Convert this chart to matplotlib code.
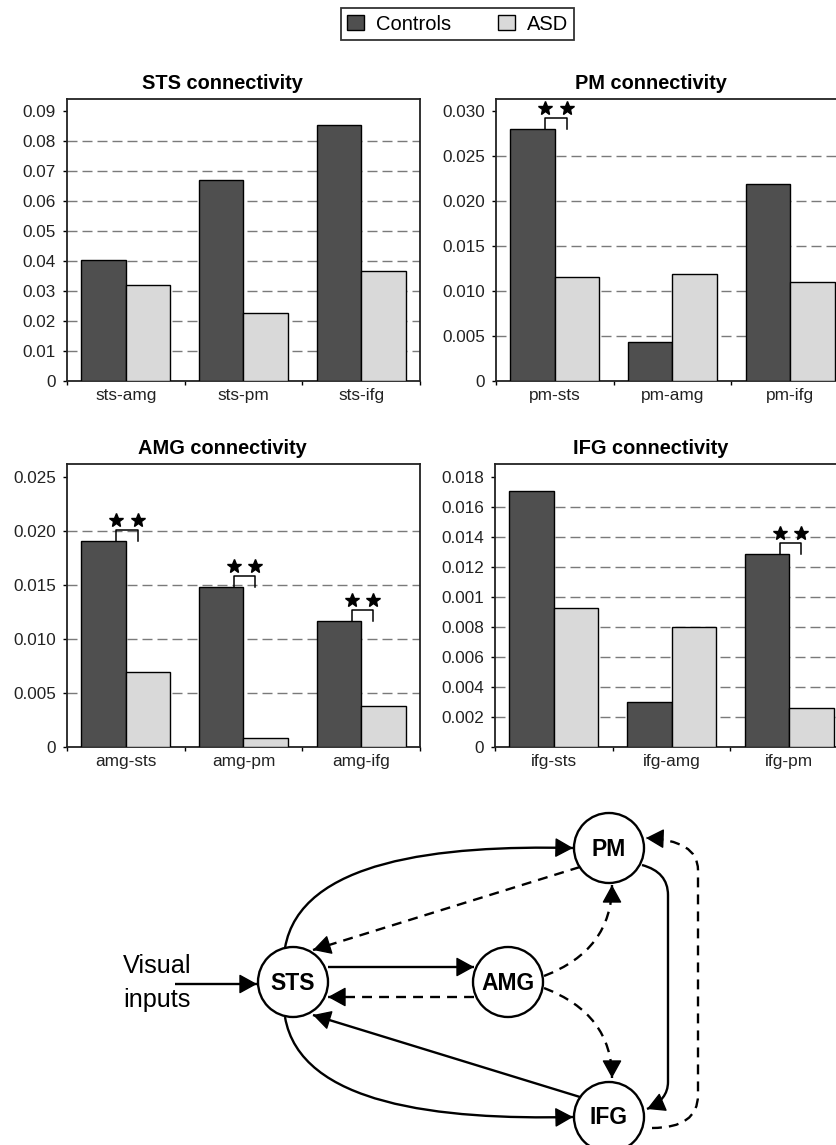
import numpy as np
import matplotlib
matplotlib.use('Agg')
import matplotlib.pyplot as plt
from matplotlib.patches import Circle, FancyArrowPatch, Patch, PathPatch
from matplotlib.path import Path

plt.rcParams['font.family'] = ['Liberation Sans', 'DejaVu Sans']

# ---- data ----
sts_labels = ['sts-amg', 'sts-pm', 'sts-ifg']
sts_controls = [0.0403, 0.0670, 0.0852]
sts_asd = [0.0320, 0.0226, 0.0367]
sts_ticks = [0, 0.01, 0.02, 0.03, 0.04, 0.05, 0.06, 0.07, 0.08, 0.09]
sts_ticklabels = ['0', '0.01', '0.02', '0.03', '0.04', '0.05', '0.06', '0.07', '0.08', '0.09']

pm_labels = ['pm-sts', 'pm-amg', 'pm-ifg']
pm_controls = [0.0280, 0.0043, 0.0219]
pm_asd = [0.01156, 0.0119, 0.0110]
pm_ticks = [0, 0.005, 0.010, 0.015, 0.020, 0.025, 0.030]
pm_ticklabels = ['0', '0.005', '0.010', '0.015', '0.020', '0.025', '0.030']

amg_labels = ['amg-sts', 'amg-pm', 'amg-ifg']
amg_controls = [0.0191, 0.0148, 0.0117]
amg_asd = [0.0069, 0.0008, 0.0038]
amg_ticks = [0, 0.005, 0.010, 0.015, 0.020, 0.025]
amg_ticklabels = ['0', '0.005', '0.010', '0.015', '0.020', '0.025']

ifg_labels = ['ifg-sts', 'ifg-amg', 'ifg-pm']
ifg_controls = [0.0171, 0.0030, 0.0129]
ifg_asd = [0.0093, 0.0080, 0.0026]
ifg_ticks = [0, 0.002, 0.004, 0.006, 0.008, 0.010, 0.012, 0.014, 0.016, 0.018]
ifg_ticklabels = ['0', '0.002', '0.004', '0.006', '0.008', '0.001', '0.012', '0.014', '0.016', '0.018']

# indices of pairs marked with ** per panel
sts_sig = []
pm_sig = [0]
amg_sig = [0, 1, 2]
ifg_sig = [2]

W, H = 837, 1145
fig = plt.figure(figsize=(W / 100, H / 100), dpi=100)

dark = '#4f4f4f'
light = '#d9d9d9'


def px_axes(l, t, r, b):
    return fig.add_axes([l / W, 1 - b / H, (r - l) / W, (b - t) / H])


# diagram axes underneath in pixel units
axd = fig.add_axes([0, 0, 1, 1], zorder=-1)
axd.set_xlim(0, W)
axd.set_ylim(H, 0)
axd.axis('off')


def panel(ax, title, labels, ctrl, asd, ticks, ticklabels, ymax, sig):
    x = np.arange(len(labels))
    w = 0.378
    ax.bar(x - w / 2, ctrl, w, color=dark, edgecolor='black', lw=1.0, zorder=3)
    ax.bar(x + w / 2, asd, w, color=light, edgecolor='black', lw=1.0, zorder=3)
    for v in ticks[1:-1]:
        ax.axhline(v, color='#7a7a7a', lw=1.0, ls=(0, (7.2, 3.6)), zorder=1)
    ax.set_xlim(-0.5, len(labels) - 0.5)
    ax.set_ylim(0, ymax)
    ax.set_yticks(ticks)
    ax.set_yticklabels(ticklabels)
    ax.set_xticks(np.arange(len(labels) + 1) - 0.5)
    ax.set_xticklabels([])
    ax.set_xticks(x, labels, minor=True)
    ax.tick_params(axis='x', which='major', length=3, width=1, direction='out')
    ax.tick_params(axis='x', which='minor', length=0, pad=5, labelsize=12.4,
                   labelcolor='#222222')
    ax.tick_params(axis='y', length=3, width=1, direction='out', pad=5, labelsize=12.3,
                   labelcolor='#222222')
    for s in ax.spines.values():
        s.set_linewidth(1.3)
        s.set_color('#222222')
    ax.set_title(title, fontsize=14.4, fontweight='bold', pad=7, x=0.44)
    # ** brackets
    per_px = ymax / 283.0
    for i in sig:
        c = ctrl[i]
        xl, xr = i - 0.08, i + 0.10
        top = c + 11 * per_px
        ax.plot([xl, xl, xr, xr], [c, top, top, c], color='black', lw=1.1,
                zorder=4, clip_on=False)
        ax.plot([xl, xr], [c + 21 * per_px] * 2, ls='none', marker='*', ms=10,
                color='black', mec='black', zorder=4, clip_on=False)


ax1 = px_axes(67, 99, 420, 381)
panel(ax1, 'STS connectivity', sts_labels, sts_controls, sts_asd, sts_ticks,
      sts_ticklabels, 0.094, sts_sig)
ax2 = px_axes(496, 99, 849, 381)
panel(ax2, 'PM connectivity', pm_labels, pm_controls, pm_asd, pm_ticks,
      pm_ticklabels, 0.0313, pm_sig)
ax3 = px_axes(67, 464, 420, 747)
panel(ax3, 'AMG connectivity', amg_labels, amg_controls, amg_asd, amg_ticks,
      amg_ticklabels, 0.0262, amg_sig)
ax4 = px_axes(495, 464, 848, 747)
panel(ax4, 'IFG connectivity', ifg_labels, ifg_controls, ifg_asd, ifg_ticks,
      ifg_ticklabels, 0.01887, ifg_sig)

handles = [Patch(facecolor=dark, edgecolor='black', lw=1.0, label='Controls'),
           Patch(facecolor=light, edgecolor='black', lw=1.0, label='ASD')]
leg = fig.legend(handles=handles, loc='center', bbox_to_anchor=(457.5 / W, 1 - 24 / H),
                 ncol=2, fontsize=14.5, frameon=True, fancybox=False,
                 handlelength=0.85, handleheight=0.75, handletextpad=0.6,
                 columnspacing=2.3, borderpad=0.3, borderaxespad=0)
leg.get_frame().set_edgecolor('black')
leg.get_frame().set_linewidth(1.3)

# ---- connectivity diagram ----
nodes = {'STS': (293, 982), 'AMG': (508, 982), 'PM': (609, 848), 'IFG': (609, 1117)}
for name, (cx, cy) in nodes.items():
    axd.add_patch(Circle((cx, cy), 35, facecolor='white', edgecolor='black', lw=1.7, zorder=3))
    axd.text(cx, cy + 1, name, ha='center', va='center', fontsize=16.5,
             fontweight='bold', zorder=4)

axd.text(123, 973, 'Visual', ha='left', va='baseline', fontsize=18.2)
axd.text(123, 1007, 'inputs', ha='left', va='baseline', fontsize=18.2)

M, L, C3, C4 = Path.MOVETO, Path.LINETO, Path.CURVE3, Path.CURVE4
dash = (0, (4.2, 3.0))
edges = [
    ([(175, 984), (257, 984)], [M, L], '-'),
    ([(328, 967), (474, 967)], [M, L], '-'),
    ([(474, 997), (328, 997)], [M, L], dash),
    ([(580, 867), (313, 950)], [M, L], dash),
    ([(580, 1097), (313, 1015)], [M, L], '-'),
    ([(285, 948), (300, 860), (440, 845), (573, 848)], [M, C4, C4, C4], '-'),
    ([(285, 1017), (300, 1105), (440, 1120), (573, 1117)], [M, C4, C4, C4], '-'),
    ([(544, 976), (612, 950), (612, 885)], [M, C3, C3], dash),
    ([(544, 988), (612, 1014), (612, 1078)], [M, C3, C3], dash),
    ([(642, 865), (668, 872), (668, 895), (668, 1082), (668, 1100), (647, 1109)],
     [M, C3, C3, L, C3, C3], '-'),
    ([(652, 1128), (698, 1128), (698, 1095), (698, 870), (698, 840), (646, 838)],
     [M, C3, C3, L, C3, C3], dash),
]
for verts, codes, ls in edges:
    axd.add_patch(PathPatch(Path(verts, codes), facecolor='none', edgecolor='black',
                            lw=1.7, linestyle=ls, zorder=2))
    # solid arrow head along the final tangent
    (x2, y2), (x3, y3) = verts[-2], verts[-1]
    d = np.hypot(x3 - x2, y3 - y2)
    start = (x3 - (x3 - x2) / d * 14, y3 - (y3 - y2) / d * 14)
    axd.add_patch(FancyArrowPatch(start, (x3, y3),
                                  arrowstyle='-|>,head_length=0.4,head_width=0.22',
                                  mutation_scale=28, lw=1.0, color='black',
                                  shrinkA=0, shrinkB=0, zorder=2))

fig.savefig('out.png', dpi=100)
